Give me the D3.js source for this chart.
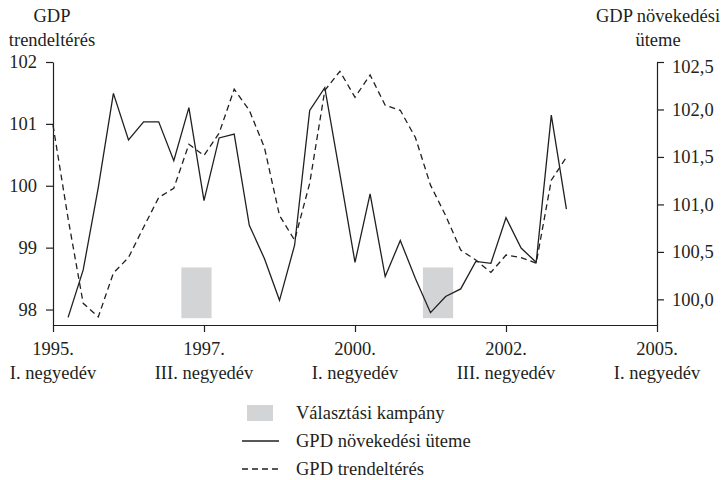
<!DOCTYPE html>
<html><head><meta charset="utf-8">
<script src="https://cdn.jsdelivr.net/npm/d3@7"></script>
<style>
html,body{margin:0;padding:0;background:#fff;}
svg{display:block;}
text{font-family:"Liberation Serif","Times New Roman",serif;fill:#231f20;}
</style></head>
<body>
<svg id="chart" width="722" height="480"></svg>
<script>
// quarter index 0 = 1995 Q1
const quarters = d3.range(0, 35);
// GDP trendeltérés (left axis, dashed)
const trendDev = [100.98, 99.47, 98.10, 97.88, 98.59, 98.84, 99.33, 99.81, 99.96, 100.67,
  100.49, 100.85, 101.56, 101.22, 100.62, 99.52, 99.12, 100.04, 101.54, 101.85,
  101.43, 101.79, 101.30, 101.22, 100.78, 100.01, 99.52, 98.96, 98.80, 98.60,
  98.88, 98.84, 98.75, 100.09, 100.46];
// GDP növekedési üteme (right axis, solid), starts at quarter 1
const growth = [null, 99.81, 100.31, 101.18, 102.17, 101.68, 101.87, 101.87, 101.46, 102.02,
  101.04, 101.70, 101.74, 100.78, 100.43, 99.99, 100.57, 101.99, 102.23, 101.32,
  100.39, 101.11, 100.24, 100.62, 100.22, 99.86, 100.03, 100.11, 100.40, 100.38,
  100.86, 100.54, 100.39, 101.94, 100.95];
// election campaigns: [start quarter, end quarter]
const campaigns = [[8.5, 10.5], [24.5, 26.5]];
const campaignTop = 98.68, campaignBottom = 97.86; // left-axis units
const xTicks = [0, 10, 20, 30, 40];
const xTickYears = ["1995.", "1997.", "2000.", "2002.", "2005."];
const xTickQuarters = ["I. negyedév", "III. negyedév", "I. negyedév", "III. negyedév", "I. negyedév"];
const leftTicks = [98, 99, 100, 101, 102];
const rightTicks = [100.0, 100.5, 101.0, 101.5, 102.0, 102.5];
const legendLabels = ["Választási kampány", "GPD növekedési üteme", "GPD trendeltérés"];

const ink = "#231f20";
const svg = d3.select("#chart");
const x = d3.scaleLinear().domain([0, 40]).range([53, 657]);
const yL = d3.scaleLinear().domain([97.75, 102]).range([325, 62]);
const yR = d3.scaleLinear().domain([99.73, 102.5]).range([325, 62]);

// campaigns
svg.append("g").selectAll("rect").data(campaigns).join("rect")
  .attr("x", d => x(d[0])).attr("width", d => x(d[1]) - x(d[0]))
  .attr("y", yL(campaignTop)).attr("height", yL(campaignBottom) - yL(campaignTop))
  .attr("fill", "#d3d4d6");

// axes
const fs = 18.5;
const gl = svg.append("g").attr("transform", `translate(${x(0)},0)`)
  .call(d3.axisLeft(yL).tickValues(leftTicks).tickSize(7).tickSizeOuter(0).tickFormat(d3.format("d")));
const gr = svg.append("g").attr("transform", `translate(${x(40)},0)`)
  .call(d3.axisRight(yR).tickValues(rightTicks).tickSize(7).tickSizeOuter(0)
    .tickFormat(d => d3.format(".1f")(d).replace(".", ",")));
const gx = svg.append("g").attr("transform", `translate(0,${yL.range()[0]})`)
  .call(d3.axisBottom(x).tickValues(xTicks).tickSize(7).tickSizeOuter(0).tickFormat(""));
[gl, gr, gx].forEach(g => {
  g.selectAll("path,line").attr("stroke", ink).attr("stroke-width", 1.2);
  g.selectAll("text").attr("font-size", fs).attr("font-family", "Liberation Serif").attr("fill", ink);
});
gl.selectAll("text").attr("x", -16);
gr.selectAll("text").attr("x", 15);
gr.selectAll(".tick").filter(d => d === 102.5).select("text").attr("dy", "0.55em");

// x tick labels (two lines)
const xl = svg.append("g");
xTicks.forEach((t, i) => {
  const tx = xl.append("text").attr("x", x(t)).attr("text-anchor", "middle").attr("font-size", fs);
  tx.append("tspan").attr("x", x(t)).attr("y", 355).text(xTickYears[i]);
  tx.append("tspan").attr("x", x(t)).attr("y", 379).text(xTickQuarters[i]);
});

// axis titles
const lt = svg.append("text").attr("text-anchor", "middle").attr("font-size", fs);
lt.append("tspan").attr("x", 52).attr("y", 22).text("GDP");
lt.append("tspan").attr("x", 52).attr("y", 46).text("trendeltérés");
const rt = svg.append("text").attr("text-anchor", "middle").attr("font-size", fs);
rt.append("tspan").attr("x", 658).attr("y", 22).text("GDP növekedési");
rt.append("tspan").attr("x", 658).attr("y", 46).text("üteme");

// lines
const lineL = d3.line().defined(d => d != null).x((d, i) => x(quarters[i])).y(d => yL(d));
const lineR = d3.line().defined(d => d != null).x((d, i) => x(quarters[i])).y(d => yR(d));
svg.append("path").datum(trendDev).attr("d", lineL).attr("fill", "none")
  .attr("stroke", ink).attr("stroke-width", 1.3).attr("stroke-dasharray", "6,4");
svg.append("path").datum(growth).attr("d", lineR).attr("fill", "none")
  .attr("stroke", ink).attr("stroke-width", 1.3);

// legend
const lg = svg.append("g");
const rowY = [413, 441, 469];
lg.append("rect").attr("x", 247).attr("y", rowY[0] - 8).attr("width", 26).attr("height", 16).attr("fill", "#d3d4d6");
lg.append("line").attr("x1", 242).attr("x2", 279).attr("y1", rowY[1]).attr("y2", rowY[1])
  .attr("stroke", ink).attr("stroke-width", 1.3);
lg.append("line").attr("x1", 242).attr("x2", 279).attr("y1", rowY[2]).attr("y2", rowY[2])
  .attr("stroke", ink).attr("stroke-width", 1.3).attr("stroke-dasharray", "6,4");
legendLabels.forEach((l, i) => {
  lg.append("text").attr("x", 296).attr("y", rowY[i]).attr("dy", "0.35em").attr("font-size", fs).text(l);
});
</script>
</body></html>
